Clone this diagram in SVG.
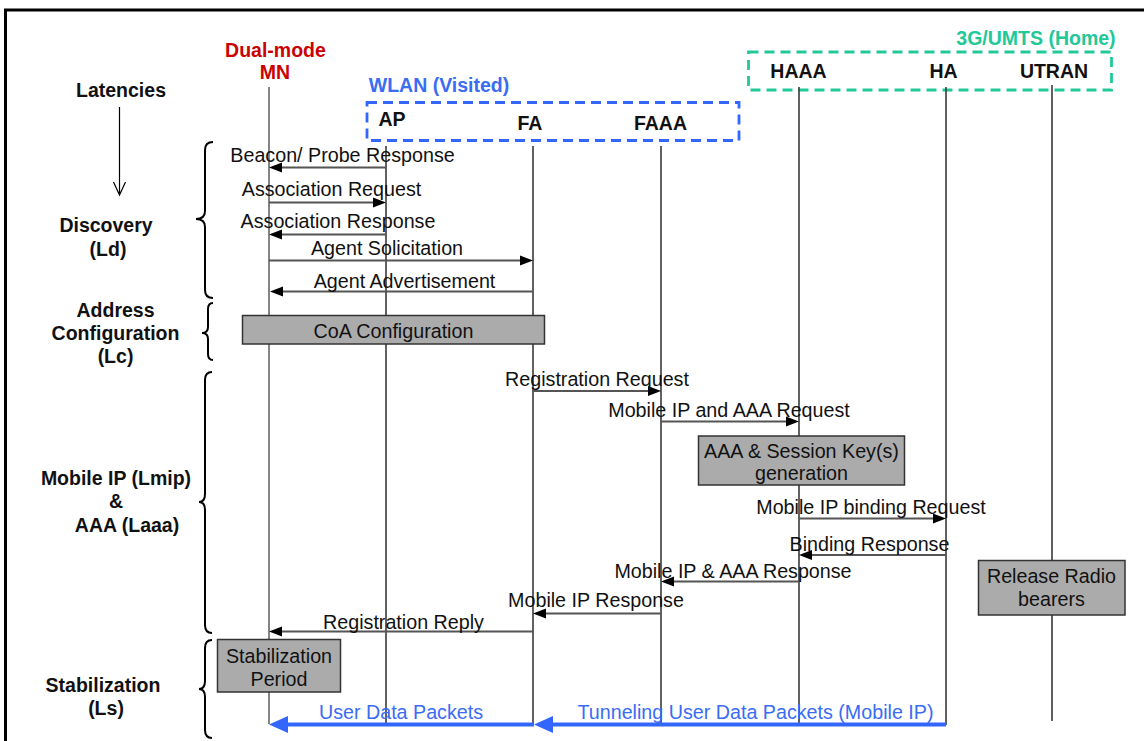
<svg xmlns="http://www.w3.org/2000/svg" width="1144" height="741" viewBox="0 0 1144 741">
  <style>
    .t { font-family: "Liberation Sans", Arial, sans-serif; font-size: 19.7px; fill: #111; text-anchor: middle; }
    .b { font-family: "Liberation Sans", Arial, sans-serif; font-size: 19.5px; font-weight: bold; fill: #111; text-anchor: middle; }
    .life { stroke: #3a3a3a; stroke-width: 1.6; fill: none; }
    .msg { stroke: #555; stroke-width: 1.8; fill: none; }
    .head { fill: #000; }
    .box { fill: #ababab; stroke: #333; stroke-width: 1.5; }
    .brace { stroke: #000; stroke-width: 2; fill: none; }
    .data { stroke: #3366ff; stroke-width: 4; fill: none; }
    .dhead { fill: #3366ff; }
  </style>

  <rect width="1144" height="741" fill="#fff"/>
  <!-- frame -->
  <path d="M5.5,741 V10 H1144" stroke="#000" stroke-width="3" fill="none"/>

  <!-- latency column -->
  <g id="latencies">
    <text class="b" x="121" y="97">Latencies</text>
    <path d="M119.5,107 V195 M113.5,182 L119.5,195 L125.5,182" stroke="#000" stroke-width="1.2" fill="none"/>
  </g>
  <g id="phase-discovery">
    <text class="b" x="106" y="232">Discovery</text>
    <text class="b" x="108" y="256">(Ld)</text>
    <path class="brace" d="M213,142 Q205,142 205,150 L205,211 Q205,219 196,219 Q205,219 205,227 L205,290 Q205,298 213,298"/>
  </g>
  <g id="phase-address">
    <text class="b" x="115.5" y="317">Address</text>
    <text class="b" x="115.5" y="340">Configuration</text>
    <text class="b" x="115.5" y="363">(Lc)</text>
    <path class="brace" d="M213,303 Q208,303 208,309 L208,327 Q208,333 202,333 Q208,333 208,339 L208,354 Q208,360 213,360"/>
  </g>
  <g id="phase-mobileip">
    <text class="b" x="116" y="485">Mobile IP (Lmip)</text>
    <text class="b" x="116" y="508">&amp;</text>
    <text class="b" x="127" y="532">AAA (Laaa)</text>
    <path class="brace" d="M212,372 Q205,372 205,380 L205,494 Q205,502 199,502 Q205,502 205,510 L205,625 Q205,633 212,633"/>
  </g>
  <g id="phase-stabilization">
    <text class="b" x="103" y="692">Stabilization</text>
    <text class="b" x="106" y="715">(Ls)</text>
    <path class="brace" d="M212,640 Q205,640 205,648 L205,681 Q205,689 199,689 Q205,689 205,697 L205,730 Q205,738 212,738"/>
  </g>

  <!-- domains -->
  <g id="wlan">
    <rect x="367" y="102.5" width="372" height="38" fill="none" stroke="#3366ff" stroke-width="2.8" stroke-dasharray="10,6"/>
    <text class="b" x="439" y="92" style="fill:#3a6cf4">WLAN (Visited)</text>
  </g>
  <g id="umts">
    <rect x="748.5" y="52" width="363" height="38" fill="none" stroke="#20c997" stroke-width="2.8" stroke-dasharray="10,6"/>
    <text class="b" x="1036" y="45" style="fill:#20c997">3G/UMTS (Home)</text>
  </g>

  <!-- entities with lifelines -->
  <g id="mn">
    <text class="b" x="275.5" y="57" style="fill:#cc0000">Dual-mode</text>
    <text class="b" x="275" y="79" style="fill:#cc0000">MN</text>
    <line class="life" x1="269" y1="87" x2="269" y2="724" style="stroke:#666"/>
  </g>
  <g id="ap">
    <text class="b" x="392" y="126">AP</text>
    <line class="life" x1="386" y1="146" x2="386" y2="723"/>
  </g>
  <g id="fa">
    <text class="b" x="530" y="130">FA</text>
    <line class="life" x1="533" y1="146" x2="533" y2="723"/>
  </g>
  <g id="faaa">
    <text class="b" x="660.5" y="130">FAAA</text>
    <line class="life" x1="661" y1="146" x2="661" y2="723"/>
  </g>
  <g id="haaa">
    <text class="b" x="798.5" y="78">HAAA</text>
    <line class="life" x1="799" y1="87" x2="799" y2="723"/>
  </g>
  <g id="ha">
    <text class="b" x="943.5" y="78">HA</text>
    <line class="life" x1="946" y1="87" x2="946" y2="725"/>
  </g>
  <g id="utran">
    <text class="b" x="1054" y="78">UTRAN</text>
    <line class="life" x1="1052" y1="85" x2="1052" y2="721"/>
  </g>

  <!-- messages -->
  <g id="connectors">
    <line class="msg" x1="386" y1="167.5" x2="280" y2="167.5"/>
    <polygon class="head" points="269,167.5 282,162.5 282,172.5"/>
    <text class="t" x="342.5" y="161.5">Beacon/ Probe Response</text>

    <line class="msg" x1="269" y1="202.5" x2="375" y2="202.5"/>
    <polygon class="head" points="386,202.5 373,197.5 373,207.5"/>
    <text class="t" x="331.5" y="195.5">Association Request</text>

    <line class="msg" x1="386" y1="234.5" x2="280" y2="234.5"/>
    <polygon class="head" points="269,234.5 282,229.5 282,239.5"/>
    <text class="t" x="338" y="227.5">Association Response</text>

    <line class="msg" x1="269" y1="260.5" x2="522" y2="260.5"/>
    <polygon class="head" points="533,260.5 520,255.5 520,265.5"/>
    <text class="t" x="387" y="254.5">Agent Solicitation</text>

    <line class="msg" x1="533" y1="291.5" x2="282" y2="291.5"/>
    <polygon class="head" points="270,291.5 283,286.5 283,296.5"/>
    <text class="t" x="404.5" y="287.5">Agent Advertisement</text>

    <line class="msg" x1="533" y1="391" x2="650" y2="391"/>
    <polygon class="head" points="661,391 648,386 648,396"/>
    <text class="t" x="597" y="385.5">Registration Request</text>

    <line class="msg" x1="661" y1="421.5" x2="788" y2="421.5"/>
    <polygon class="head" points="799,421.5 786,416.5 786,426.5"/>
    <text class="t" x="729" y="416.5">Mobile IP and AAA Request</text>

    <line class="msg" x1="799" y1="518.5" x2="935" y2="518.5"/>
    <polygon class="head" points="946,518.5 933,513.5 933,523.5"/>
    <text class="t" x="871" y="513.5">Mobile IP binding Request</text>

    <line class="msg" x1="946" y1="555" x2="810" y2="555"/>
    <polygon class="head" points="799,555 812,550 812,560"/>
    <text class="t" x="869.5" y="550.5">Binding Response</text>

    <line class="msg" x1="799" y1="581.5" x2="672" y2="581.5"/>
    <polygon class="head" points="661,581.5 674,576.5 674,586.5"/>
    <text class="t" x="733" y="577.5">Mobile IP &amp; AAA Response</text>

    <line class="msg" x1="661" y1="613.5" x2="544" y2="613.5"/>
    <polygon class="head" points="533,613.5 546,608.5 546,618.5"/>
    <text class="t" x="596" y="606.5">Mobile IP Response</text>

    <line class="msg" x1="533" y1="631.5" x2="280" y2="631.5"/>
    <polygon class="head" points="269,631.5 282,626.5 282,636.5"/>
    <text class="t" x="403.5" y="628.5">Registration Reply</text>

    <!-- user data -->
    <line class="data" x1="946" y1="724.5" x2="550" y2="724.5"/>
    <polygon class="dhead" points="534,724.5 553,716 553,733"/>
    <line class="data" x1="534" y1="724.5" x2="285" y2="724.5"/>
    <polygon class="dhead" points="269,724.5 288,716 288,733"/>
    <text class="t" x="401" y="718.5" style="fill:#3a6cf4">User Data Packets</text>
    <text class="t" x="755.5" y="718.5" style="fill:#3a6cf4">Tunneling User Data Packets (Mobile IP)</text>
  </g>

  <!-- activity boxes -->
  <g id="coa-config">
    <rect class="box" x="242.5" y="315.5" width="302" height="28.5"/>
    <text class="t" x="393.5" y="337.5">CoA Configuration</text>
  </g>
  <g id="key-generation">
    <rect class="box" x="698.5" y="436" width="206" height="49"/>
    <text class="t" x="801.5" y="457.5">AAA &amp; Session Key(s)</text>
    <text class="t" x="801.5" y="480">generation</text>
  </g>
  <g id="release-radio">
    <rect class="box" x="978.5" y="560.5" width="146.5" height="54.5"/>
    <text class="t" x="1051.5" y="582.5">Release Radio</text>
    <text class="t" x="1051.5" y="605.5">bearers</text>
  </g>
  <g id="stabilization-period">
    <rect class="box" x="217.5" y="639.5" width="123" height="52.5"/>
    <text class="t" x="279" y="662.5">Stabilization</text>
    <text class="t" x="279" y="685.5">Period</text>
  </g>
</svg>
